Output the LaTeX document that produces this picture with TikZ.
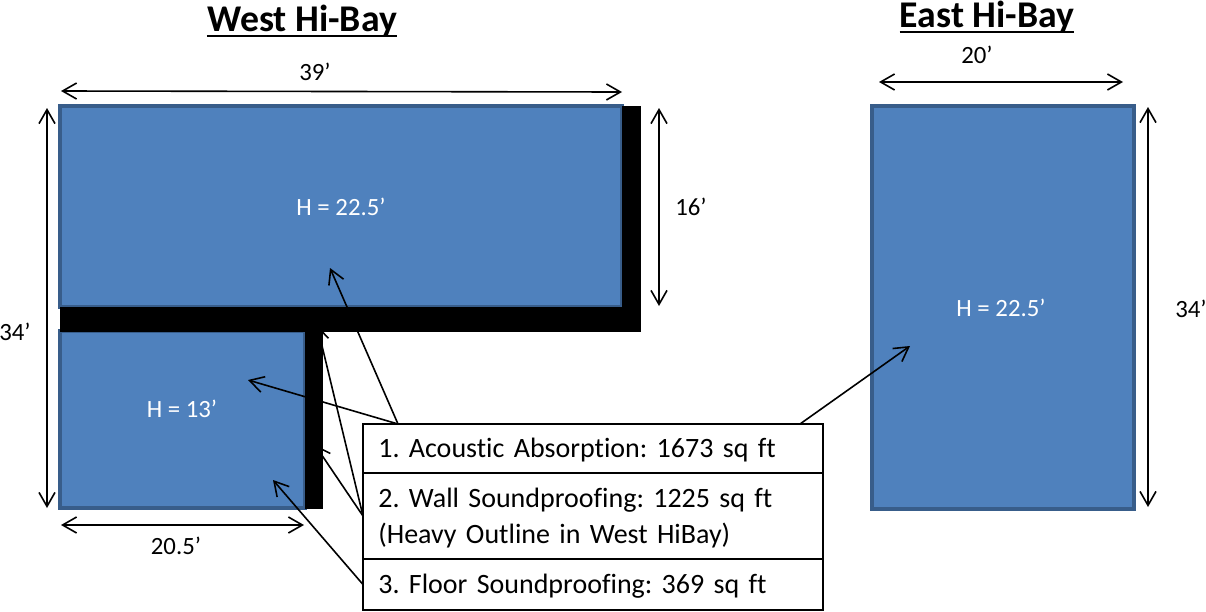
\documentclass[tikz,border=0pt]{standalone}
\usepackage{fontspec}
\setmainfont{Carlito}[Ligatures=NoCommon]
\usetikzlibrary{arrows.meta}
\definecolor{bayfill}{HTML}{4F81BD}
\definecolor{bayline}{HTML}{385D8A}
\newcommand{\rowline}[1]{\raisebox{-2.1pt}[14pt][4pt]{#1}}
\tikzset{
  x=0.75pt,y=-0.75pt,
  bay/.style={fill=bayfill,draw=bayline,line width=2.6pt},
  wall/.style={fill=black,draw=none},
  dim/.style={draw=black,line width=1.2pt,{Straight Barb[length=10.5pt,width=12pt,line width=1.2pt]}-{Straight Barb[length=10.5pt,width=12pt,line width=1.2pt]}},
  call/.style={draw=black,line width=1.2pt,-{Straight Barb[length=10.5pt,width=12pt,line width=1.2pt]}},
  lab/.style={inner sep=0pt,font=\fontsize{18.6}{22}\selectfont},
  hlab/.style={lab,text=white},
  ttl/.style={inner sep=0pt,font=\fontsize{28.3}{32}\selectfont\bfseries},
  ttlrule/.style={draw=black,line width=1.8pt},
  row/.style={draw=black,line width=1.5pt,fill=white,outer sep=0pt,minimum width=345pt,anchor=north west,inner ysep=0pt,inner xsep=11.5pt,text width=322pt,align=left,font=\fontsize{21}{27}\selectfont},
}
\begin{document}
\begin{tikzpicture}
\frenchspacing
\useasboundingbox[fill=white] (0,0) rectangle (1206,611);
% bays
\path[bay] (60,106) rectangle (622,307);
\path[bay] (60,331) rectangle (305,508);
\path[bay] (872,106) rectangle (1134,509);
\node[hlab] (h1) at (341,207) {H = 22.5’};
\node[hlab] (h2) at (182,409) {H = 13’};
\node[hlab] (h3) at (1001,308) {H = 22.5’};
% callout targets and sources
\coordinate (t1) at (330,268);
\coordinate (t2) at (248,380);
\coordinate (t3) at (315,445);
\coordinate (t4) at (317,325);
\coordinate (t5) at (273,480);
\coordinate (t6) at (910,346);
\coordinate (s1) at (398,424);
\coordinate (s2) at (800,424);
% legend rows
\node[row,minimum height=36.75pt] (r1) at (363,424) {\rowline{1. Acoustic Absorption: 1673 sq ft}};
\node[row,minimum height=64.5pt] (r2) at (363,473) {\rowline{2. Wall Soundproofing: 1225 sq ft}\\\rowline{(Heavy Outline in West HiBay)}};
\node[row,minimum height=38.25pt] (r3) at (363,559) {\rowline{3. Floor Soundproofing: 369 sq ft}};
% callouts
\draw[call] (s1) -- (t1);
\draw[call] (s1) -- (t2);
\draw[call] (r2.west) -- (t3);
\draw[call] (r2.west) -- (t4);
\draw[call] (r3.west) -- (t5);
\draw[call] (s2) -- (t6);
% heavy walls
\path[wall] (622,106) rectangle (641,331);
\path[wall] (60,307) rectangle (641,332);
\path[wall] (305,331) rectangle (323,509);
% dimensions
\coordinate (d1a) at (61,91);  \coordinate (d1b) at (622,92);
\coordinate (d2a) at (47,108); \coordinate (d2b) at (47,508);
\coordinate (d3a) at (659,108);\coordinate (d3b) at (659,306);
\coordinate (d4a) at (61,525); \coordinate (d4b) at (304,525);
\coordinate (d5a) at (879,82); \coordinate (d5b) at (1123,82);
\coordinate (d6a) at (1148,107);\coordinate (d6b) at (1148,507);
\draw[dim] (d1a) -- (d1b);
\draw[dim] (d2a) -- (d2b);
\draw[dim] (d3a) -- (d3b);
\draw[dim] (d4a) -- (d4b);
\draw[dim] (d5a) -- (d5b);
\draw[dim] (d6a) -- (d6b);
% labels
\node[lab] (l39) at (315,72) {39’};
\node[lab] (l34a) at (15,332) {34’};
\node[lab] (l16) at (691,207) {16’};
\node[lab] (l205) at (176,546) {20.5’};
\node[lab] (l20) at (977,55) {20’};
\node[lab] (l34b) at (1191,309) {34’};
\node[ttl] (west) at (302,21) {West Hi-Bay};
\node[ttl] (east) at (987,17) {East Hi-Bay};
\draw[ttlrule] ([yshift=-3.4pt]west.base west) -- ([yshift=-3.4pt]west.base east);
\draw[ttlrule] ([yshift=-3.4pt]east.base west) -- ([yshift=-3.4pt]east.base east);
\end{tikzpicture}
\end{document}
